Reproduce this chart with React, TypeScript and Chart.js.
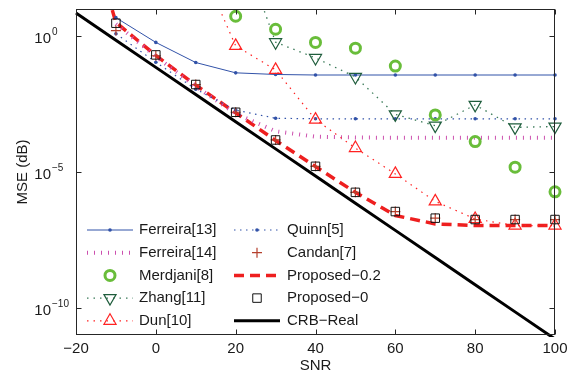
import React, { useEffect, useRef } from 'react';
import { Chart, registerables } from 'chart.js';

Chart.register(...registerables);

// SNR grid (dB)
const snr = [-20, -10, 0, 10, 20, 30, 40, 50, 60, 70, 80, 90, 100];

// MSE values (null = no point)
const ferreira13 = [null, 4.8, 0.59, 0.107, 0.0447, 0.0389, 0.0372, 0.0372, 0.0372, 0.0372, 0.0372, 0.0372, 0.0372];
const ferreira14 = [null, 2.8, 0.178, 0.0141, 1.41e-3, 3.16e-4, 2.0e-4, 1.86e-4, 1.82e-4, 1.82e-4, 1.82e-4, 1.82e-4, 1.82e-4];
const merdjani = [null, null, null, null, 5.4, 1.8, 0.59, 0.36, 0.079, 1.26e-3, 1.32e-4, 1.51e-5, 1.86e-6];
const zhang = [null, null, null, null, 7000, 0.6, 0.158, 0.0316, 1.32e-3, 5.1e-4, 2.95e-3, 4.4e-4, 4.7e-4];
const dun = [null, null, null, 1000, 0.44, 0.0575, 8.5e-4, 7.6e-5, 8.5e-6, 8.3e-7, 1.86e-7, 1.07e-7, 1.07e-7];
const quinn = [null, 1.23, 0.11, 0.0112, 1.9e-3, 9.5e-4, 9.1e-4, 9.1e-4, 9.1e-4, 9.1e-4, 9.1e-4, 9.1e-4, 9.1e-4];
const candan = [null, 1.6, 0.19, 0.0166, 1.58e-3, 1.51e-4, 1.62e-5, 1.78e-6, 3.5e-7, 2.0e-7, 1.78e-7, 1.78e-7, 1.78e-7];
const proposed02 = [3e5, 3.2, 0.195, 0.0158, 1.51e-3, 1.45e-4, 1.58e-5, 1.78e-6, 2.5e-7, 1.23e-7, 1.07e-7, 1.07e-7, 1.07e-7];
const proposed0 = [null, 3.0, 0.204, 0.0166, 1.58e-3, 1.51e-4, 1.62e-5, 1.78e-6, 3.5e-7, 2.0e-7, 1.78e-7, 1.78e-7, 1.78e-7];
const crbReal = [7.1, 0.71, 0.071, 7.1e-3, 7.1e-4, 7.1e-5, 7.1e-6, 7.1e-7, 7.1e-8, 7.1e-9, 7.1e-10, 7.1e-11, 7.1e-12];

// Axis ticks
const xTicks = [-20, 0, 20, 40, 60, 80, 100];
const yTickExps = [0, -5, -10];
const xTitle = 'SNR';
const yTitle = 'MSE (dB)';

// Legend layout (two columns)
const legendCol1 = ['Ferreira[13]', 'Ferreira[14]', 'Merdjani[8]', 'Zhang[11]', 'Dun[10]'];
const legendCol2 = ['Quinn[5]', 'Candan[7]', 'Proposed\u22120.2', 'Proposed\u22120', 'CRB\u2212Real'];

const FONT = '"Liberation Sans", Arial, Helvetica, sans-serif';
const TEXT = '#1a1a1a';

const pts = (arr: (number | null)[]) =>
  snr.map((x, i) => ({ x, y: arr[i] })).filter((p) => p.y !== null);

function drawMarker(ctx: CanvasRenderingContext2D, ds: any, x: number, y: number) {
  const r = ds.pointRadius;
  if (!r) return;
  const style = ds.pointStyle || 'circle';
  ctx.save();
  ctx.setLineDash([]);
  ctx.strokeStyle = ds.pointBorderColor || ds.borderColor;
  ctx.lineWidth = ds.pointBorderWidth ?? 1;
  ctx.beginPath();
  if (style === 'circle') {
    ctx.arc(x, y, r, 0, Math.PI * 2);
    if (ds.pointBackgroundColor && ds.pointBackgroundColor !== 'transparent') {
      ctx.fillStyle = ds.pointBackgroundColor;
      ctx.fill();
    }
  } else if (style === 'triangle') {
    let rad = ((ds.pointRotation || 0) * Math.PI) / 180;
    ctx.moveTo(x + Math.sin(rad) * r, y - Math.cos(rad) * r);
    rad += (2 * Math.PI) / 3;
    ctx.lineTo(x + Math.sin(rad) * r, y - Math.cos(rad) * r);
    rad += (2 * Math.PI) / 3;
    ctx.lineTo(x + Math.sin(rad) * r, y - Math.cos(rad) * r);
    ctx.closePath();
  } else if (style === 'cross') {
    ctx.moveTo(x, y - r);
    ctx.lineTo(x, y + r);
    ctx.moveTo(x - r, y);
    ctx.lineTo(x + r, y);
  } else if (style === 'rect') {
    const s = r * Math.SQRT1_2;
    ctx.rect(x - s, y - s, 2 * s, 2 * s);
  }
  if ((ds.pointBorderWidth ?? 1) > 0) ctx.stroke();
  ctx.restore();
}

const decorPlugin = {
  id: 'decor',
  afterDatasetsDraw(chart: any) {
    const { ctx, chartArea: a, scales } = chart;
    const xs = scales.x;
    const ys = scales.y;
    ctx.save();
    // frame
    ctx.strokeStyle = '#262626';
    ctx.lineWidth = 1;
    ctx.setLineDash([]);
    const L = Math.round(a.left) + 0.5;
    const R = Math.round(a.right) - 0.5;
    const T = Math.round(a.top) + 0.5;
    const B = Math.round(a.bottom) - 0.5;
    ctx.strokeRect(L, T, R - L, B - T);
    const tl = 5;
    ctx.beginPath();
    xTicks.forEach((v) => {
      const px = Math.round(xs.getPixelForValue(v)) + 0.5;
      ctx.moveTo(px, B);
      ctx.lineTo(px, B - tl);
      ctx.moveTo(px, T);
      ctx.lineTo(px, T + tl);
    });
    yTickExps.forEach((e) => {
      const py = Math.round(ys.getPixelForValue(Math.pow(10, e))) + 0.5;
      ctx.moveTo(L, py);
      ctx.lineTo(L + tl, py);
      ctx.moveTo(R, py);
      ctx.lineTo(R - tl, py);
    });
    ctx.stroke();

    // x tick labels
    ctx.fillStyle = TEXT;
    ctx.font = `15px ${FONT}`;
    ctx.textAlign = 'center';
    ctx.textBaseline = 'middle';
    xTicks.forEach((v) => {
      const px = xs.getPixelForValue(v);
      const label = v < 0 ? '\u2212' + Math.abs(v) : String(v);
      ctx.fillText(label, px, a.bottom + 14);
    });
    // y tick labels 10^e
    yTickExps.forEach((e) => {
      const py = ys.getPixelForValue(Math.pow(10, e));
      ctx.font = `15px ${FONT}`;
      ctx.textAlign = 'right';
      ctx.textBaseline = 'middle';
      ctx.fillText('10', 51, py + 3);
      ctx.font = `10px ${FONT}`;
      ctx.textAlign = 'left';
      const exp = e < 0 ? '\u2212' + Math.abs(e) : String(e);
      ctx.fillText(exp, 52, py - 4);
    });
    // axis titles
    ctx.font = `15px ${FONT}`;
    ctx.textAlign = 'center';
    ctx.textBaseline = 'middle';
    ctx.fillText(xTitle, (a.left + a.right) / 2, a.bottom + 31);
    ctx.save();
    ctx.translate(23, (a.top + a.bottom) / 2);
    ctx.rotate(-Math.PI / 2);
    ctx.fillText(yTitle, 0, 0);
    ctx.restore();

    // legend
    const datasets = chart.data.datasets;
    const cols = [
      { names: legendCol1, x0: 87, x1: 133, tx: 139 },
      { names: legendCol2, x0: 234, x1: 280, tx: 287 },
    ];
    const rowY0 = 230;
    const rowDy = 22.7;
    cols.forEach((col) => {
      col.names.forEach((name, i) => {
        const ds = datasets.find((d: any) => d.label === name);
        if (!ds) return;
        const y = rowY0 + i * rowDy;
        if (ds.showLine !== false) {
          ctx.save();
          ctx.strokeStyle = ds.borderColor;
          ctx.lineWidth = ds.borderWidth;
          ctx.setLineDash(ds.borderDash || []);
          ctx.beginPath();
          ctx.moveTo(col.x0, y);
          ctx.lineTo(col.x1, y);
          ctx.stroke();
          ctx.restore();
        }
        drawMarker(ctx, ds, (col.x0 + col.x1) / 2, y);
        ctx.fillStyle = TEXT;
        ctx.font = `15px ${FONT}`;
        ctx.textAlign = 'left';
        ctx.textBaseline = 'middle';
        ctx.fillText(name, col.tx, y);
      });
    });
    ctx.restore();
  },
};

const BLUE = '#3152a8';
const MAGENTA = '#cc4fae';
const GREEN = '#69bd3a';
const DKGREEN = '#1f5d3c';
const RED = '#ff2222';
const DASHRED = '#ee1f1f';
const BROWN = '#b5402d';

export default function App() {
  const ref = useRef<HTMLCanvasElement>(null);
  useEffect(() => {
    document.body.style.margin = '0';
    const markerClip = { left: 10, right: 10, top: 10, bottom: 10 };
    const lineClip = { left: 2, right: 10, top: 0, bottom: 2 };
    const chart = new Chart(ref.current as HTMLCanvasElement, {
      type: 'line',
      data: {
        datasets: [
          {
            label: 'Proposed\u22120',
            data: pts(proposed0),
            showLine: false,
            pointStyle: 'rect',
            pointRadius: 6,
            pointBorderColor: '#111111',
            pointBorderWidth: 1,
            pointBackgroundColor: 'transparent',
            borderColor: '#111111',
            clip: markerClip,
          } as any,
          {
            label: 'Candan[7]',
            data: pts(candan),
            showLine: false,
            pointStyle: 'cross',
            pointRadius: 5,
            pointBorderColor: BROWN,
            pointBorderWidth: 1.2,
            borderColor: BROWN,
            clip: markerClip,
          },
          {
            label: 'Merdjani[8]',
            data: pts(merdjani),
            showLine: false,
            pointStyle: 'circle',
            pointRadius: 5,
            pointBorderColor: GREEN,
            pointBorderWidth: 3,
            pointBackgroundColor: 'transparent',
            borderColor: GREEN,
            clip: markerClip,
          },
          {
            label: 'Zhang[11]',
            data: pts(zhang),
            borderColor: '#3a7a58',
            borderWidth: 1.3,
            borderDash: [1.5, 5],
            pointStyle: 'triangle',
            pointRotation: 180,
            pointRadius: 7,
            pointBorderColor: DKGREEN,
            pointBorderWidth: 1.2,
            pointBackgroundColor: 'transparent',
            clip: lineClip,
          },
          {
            label: 'Dun[10]',
            data: pts(dun),
            borderColor: RED,
            borderWidth: 1.2,
            borderDash: [1.5, 5],
            pointStyle: 'triangle',
            pointRadius: 7,
            pointBorderColor: RED,
            pointBorderWidth: 1.2,
            pointBackgroundColor: 'transparent',
            clip: lineClip,
          },
          {
            label: 'Ferreira[13]',
            data: pts(ferreira13),
            borderColor: BLUE,
            borderWidth: 1,
            pointStyle: 'circle',
            pointRadius: 1.8,
            pointBorderWidth: 0,
            pointBorderColor: BLUE,
            pointBackgroundColor: BLUE,
            clip: lineClip,
          },
          {
            label: 'Quinn[5]',
            data: pts(quinn),
            borderColor: BLUE,
            borderWidth: 1.2,
            borderDash: [1.5, 4.5],
            pointStyle: 'circle',
            pointRadius: 1.8,
            pointBorderWidth: 0,
            pointBorderColor: BLUE,
            pointBackgroundColor: BLUE,
            clip: lineClip,
          },
          {
            label: 'Ferreira[14]',
            data: pts(ferreira14),
            borderColor: MAGENTA,
            borderWidth: 4,
            borderDash: [1, 6],
            pointRadius: 0,
            clip: lineClip,
          },
          {
            label: 'Proposed\u22120.2',
            data: pts(proposed02),
            borderColor: DASHRED,
            borderWidth: 3.5,
            borderDash: [10, 6],
            pointRadius: 0,
            clip: lineClip,
          },
          {
            label: 'CRB\u2212Real',
            data: pts(crbReal),
            borderColor: '#000000',
            borderWidth: 3,
            pointRadius: 0,
            clip: lineClip,
          },
        ],
      },
      options: {
        responsive: false,
        animation: false,
        events: [],
        layout: { padding: { left: 76, right: 17, top: 9, bottom: 38 } },
        scales: {
          x: { type: 'linear', min: -20, max: 100, display: false },
          y: { type: 'logarithmic', min: 1e-11, max: 10, display: false },
        },
        plugins: {
          legend: { display: false },
          tooltip: { enabled: false },
        },
        elements: { line: { tension: 0, fill: false } },
      },
      plugins: [decorPlugin],
    } as any);
    return () => chart.destroy();
  }, []);
  return (
    <div style={{ position: 'absolute', left: 0, top: 0, width: 572, height: 373, background: '#ffffff' }}>
      <canvas ref={ref} width={572} height={373} style={{ display: 'block' }} />
    </div>
  );
}
